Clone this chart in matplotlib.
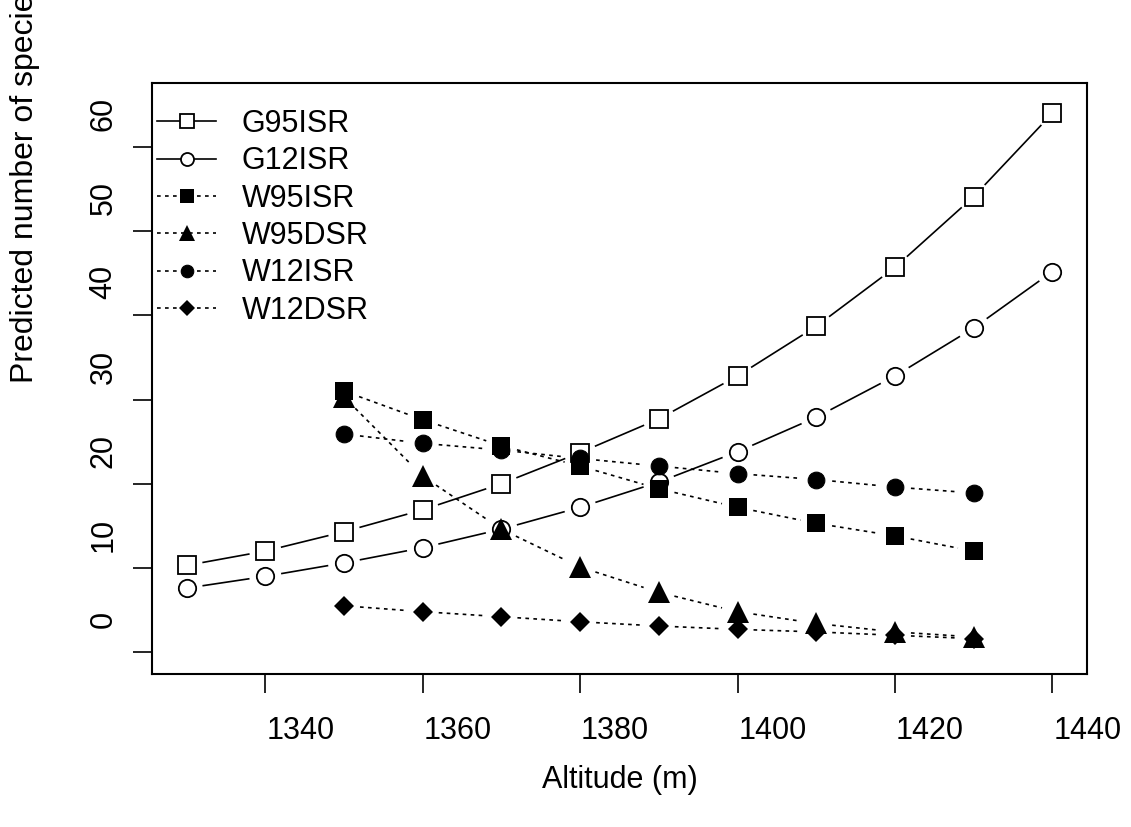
import numpy as np
import matplotlib
matplotlib.use('Agg')
import matplotlib.pyplot as plt
from matplotlib import transforms

plt.rcParams['font.family'] = ['Liberation Sans', 'DejaVu Sans']

alt_g = [1330, 1340, 1350, 1360, 1370, 1380, 1390, 1400, 1410, 1420, 1430, 1440]
alt_w = [1350, 1360, 1370, 1380, 1390, 1400, 1410, 1420, 1430]

g95isr = [10.3, 12.0, 14.3, 16.9, 20.0, 23.7, 27.7, 32.8, 38.7, 45.7, 54.1, 64.0]
g12isr = [7.6, 9.0, 10.6, 12.4, 14.6, 17.2, 20.2, 23.8, 27.9, 32.8, 38.5, 45.2]
w95isr = [31.0, 27.6, 24.5, 22.1, 19.4, 17.2, 15.3, 13.8, 12.0]
w95dsr = [30.3, 20.9, 14.6, 10.1, 7.1, 4.8, 3.4, 2.4, 1.8]
w12isr = [25.9, 24.8, 24.0, 23.0, 22.1, 21.2, 20.5, 19.6, 18.9]
w12dsr = [5.5, 4.8, 4.2, 3.6, 3.1, 2.7, 2.4, 2.0, 1.6]

xticks = [1340, 1360, 1380, 1400, 1420, 1440]
yticks = [0, 10, 20, 30, 40, 50, 60]

fig = plt.figure(figsize=(11.31, 8.27), dpi=100)
ax = fig.add_axes([152/1131, 1-674/827, (1087-152)/1131, (674-83)/827])
ax.set_xlim(1325.6, 1444.4)
ax.set_ylim(-2.6, 67.6)

FS = 22
dots = (0, (2.2, 2.6))

def gapped(x, y, ls, gap=16):
    # R type="b": segments stop short of the points
    pts = ax.transData.transform(np.column_stack([x, y]))
    inv = ax.transData.inverted()
    for p0, p1 in zip(pts[:-1], pts[1:]):
        d = p1 - p0
        L = np.hypot(*d)
        if L <= 2*gap:
            continue
        a = p0 + d/L*gap
        b = p1 - d/L*gap
        seg = inv.transform(np.array([a, b]))
        ax.plot(seg[:, 0], seg[:, 1], color='black', lw=1.2, ls=ls,
                solid_capstyle='butt', dash_capstyle='butt')

series = [
    ('G95ISR', alt_g, g95isr, '-', dict(marker='s', ms=13, mfc='white', mec='black', mew=1.3)),
    ('G12ISR', alt_g, g12isr, '-', dict(marker='o', ms=12.5, mfc='white', mec='black', mew=1.3)),
    ('W95ISR', alt_w, w95isr, dots, dict(marker='s', ms=12.5, mfc='black', mec='black', mew=0)),
    ('W95DSR', alt_w, w95dsr, dots, dict(marker='^', ms=16, mfc='black', mec='black', mew=0)),
    ('W12ISR', alt_w, w12isr, dots, dict(marker='o', ms=12, mfc='black', mec='black', mew=0.8)),
    ('W12DSR', alt_w, w12dsr, dots, dict(marker='D', ms=10.5, mfc='black', mec='black', mew=0)),
]

handles = []
for name, x, y, ls, mk in series:
    gapped(x, y, ls)
    ax.plot(x, y, ls='none', **mk)
    h, = ax.plot([], [], color='black', lw=1.2, ls=ls, **mk)
    h.set_label(name)
    handles.append(h)

ax.legend(handles=handles, loc='upper left', bbox_to_anchor=(-0.017, 0.992),
          frameon=False, fontsize=FS, markerscale=0.75, handlelength=1.9,
          handletextpad=0.85, labelspacing=0.24, borderaxespad=0.3)

ax.set_xticks(xticks)
ax.set_yticks(yticks)
ax.tick_params(axis='both', length=14, width=1.2, direction='out', labelsize=FS)
ax.tick_params(axis='x', pad=16)
ax.tick_params(axis='y', pad=10)
for lab in ax.get_yticklabels():
    lab.set_rotation(90)
    lab.set_va('center')

# tick labels sit offset from their tick marks in the original
dx = transforms.ScaledTranslation(35/100, 0, fig.dpi_scale_trans)
dy = transforms.ScaledTranslation(0, 33/100, fig.dpi_scale_trans)
for lab in ax.get_xticklabels():
    lab.set_transform(lab.get_transform() + dx)
for lab in ax.get_yticklabels():
    lab.set_transform(lab.get_transform() + dy)

for s in ax.spines.values():
    s.set_linewidth(1.5)

fig.text(620/1131, 1-780/827, 'Altitude (m)', fontsize=FS, ha='center', va='center')
fig.text(25/1131, 1-383/827, 'Predicted number of species', fontsize=23,
         rotation=90, ha='center', va='bottom')

fig.savefig('out.png', dpi=100)
